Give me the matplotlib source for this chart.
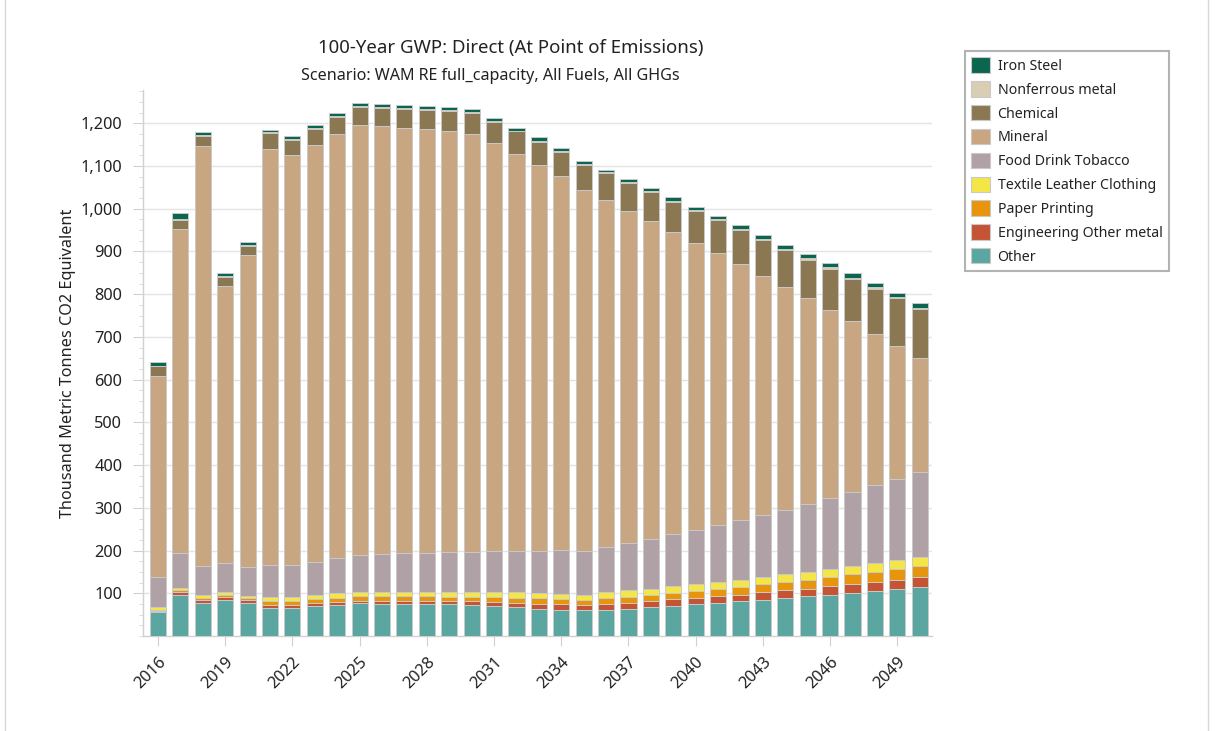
import matplotlib
matplotlib.use("Agg")
import matplotlib.pyplot as plt
from matplotlib.ticker import StrMethodFormatter, MultipleLocator
from matplotlib.patches import Patch
from matplotlib.lines import Line2D
import numpy as np

plt.rcParams['font.family'] = ['Noto Sans', 'DejaVu Sans']

years = list(range(2016, 2051))

other = [57, 97, 78, 85, 77, 66, 66, 71, 73, 77, 75, 75, 75, 74, 73, 71, 67, 64, 61, 60,
         62, 64, 68, 71, 74, 78, 81, 85, 89, 93, 96, 101, 106, 110, 114]
engineering = [2, 7, 7, 6, 7, 7, 7, 6, 6, 6, 8, 8, 8, 8, 9, 9, 11, 12, 13, 12,
               12, 14, 14, 15, 15, 15, 16, 18, 18, 18, 20, 20, 21, 22, 25]
paper = [3, 4, 4, 5, 5, 9, 8, 9, 10, 10, 10, 10, 10, 10, 10, 12, 12, 13, 12, 13,
         14, 14, 14, 15, 16, 17, 18, 18, 19, 21, 22, 23, 22, 24, 24]
textile = [6, 5, 7, 6, 5, 9, 10, 9, 11, 11, 11, 11, 11, 11, 11, 11, 12, 11, 13, 12,
           14, 15, 15, 15, 16, 17, 17, 17, 18, 18, 19, 20, 22, 23, 23]
food = [71, 81, 68, 69, 68, 76, 76, 79, 83, 86, 88, 90, 91, 93, 93, 95, 98, 100, 102, 103,
        107, 111, 117, 122, 127, 133, 139, 145, 152, 160, 167, 173, 182, 189, 198]
mineral = [470, 758, 984, 649, 730, 974, 958, 975, 991, 1006, 1001, 996, 991, 985, 978, 955,
           928, 903, 875, 844, 812, 777, 744, 708, 673, 636, 599, 560, 522, 482, 440, 400,
           355, 311, 267]
chemical = [22, 22, 23, 21, 21, 36, 36, 38, 40, 43, 44, 44, 46, 48, 50, 50, 53, 54, 57, 58,
            62, 66, 67, 71, 74, 77, 81, 84, 85, 89, 96, 99, 105, 111, 114]
nonferrous = [2, 3, 2, 2, 2, 2, 2, 2, 2, 2, 2, 2, 2, 2, 2, 2, 2, 2, 2, 2,
              2, 2, 2, 2, 2, 2, 2, 3, 3, 3, 3, 3, 3, 3, 3]
iron_steel = [8, 14, 6, 7, 8, 6, 7, 7, 7, 7, 7, 8, 7, 7, 7, 7, 7, 8, 7, 8,
              6, 6, 8, 8, 8, 8, 8, 8, 10, 10, 10, 11, 10, 10, 11]

series = [
    ("Other", other, "#5ba6a1"),
    ("Engineering Other metal", engineering, "#c45433"),
    ("Paper Printing", paper, "#e8950e"),
    ("Textile Leather Clothing", textile, "#f5e647"),
    ("Food Drink Tobacco", food, "#b0a1a6"),
    ("Mineral", mineral, "#c9a682"),
    ("Chemical", chemical, "#8b7752"),
    ("Nonferrous metal", nonferrous, "#d9cdb4"),
    ("Iron Steel", iron_steel, "#0b6650"),
]

fig = plt.figure(figsize=(12.15, 7.31), dpi=100)
ax = fig.add_axes([143 / 1215, 1 - 636 / 731, (932 - 143) / 1215, (636 - 90) / 731])

bottom = np.zeros(len(years))
for name, vals, col in series:
    ax.bar(years, vals, bottom=bottom, width=0.72, color=col, edgecolor="#c9c9c9",
           linewidth=0.7, zorder=3)
    bottom += np.array(vals, dtype=float)

ax.set_xlim(2016 - 0.67, 2050.55)
ax.set_ylim(0, 1278)
ax.set_yticks(range(100, 1300, 100))
ax.yaxis.set_major_formatter(StrMethodFormatter("{x:,.0f}"))
ax.yaxis.set_minor_locator(MultipleLocator(25))
ax.set_xticks(years[::3])
ax.set_xticklabels([str(y) for y in years[::3]], rotation=45, ha="right",
                   rotation_mode="anchor")

ax.grid(axis="y", which="major", color="#e4e4e4", linewidth=1.0, zorder=0)
ax.set_axisbelow(True)
for s in ["top", "right"]:
    ax.spines[s].set_visible(False)
for s in ["left", "bottom"]:
    ax.spines[s].set_color("#d0d0d0")
    ax.spines[s].set_linewidth(1.0)
ax.tick_params(axis="both", which="major", length=7, color="#d0d0d0", labelsize=11.8,
               labelcolor="#222222")
ax.tick_params(axis="y", which="major", pad=8)
ax.tick_params(axis="x", which="major", pad=6)
ax.tick_params(axis="y", which="minor", length=3, color="#d8d8d8")

ax.set_ylabel("Thousand Metric Tonnes CO2 Equivalent", fontsize=11.7, color="#222222",
              labelpad=3)

fig.text(511 / 1215, 1 - 48 / 731, "100-Year GWP: Direct (At Point of Emissions)",
         ha="center", va="center", fontsize=13.4, color="#222222")
fig.text(490 / 1215, 1 - 76 / 731, "Scenario: WAM RE full_capacity, All Fuels, All GHGs",
         ha="center", va="center", fontsize=11.6, color="#222222")

handles = [Patch(facecolor=col, edgecolor="#c9c9c9", linewidth=0.8, label=name)
           for name, vals, col in series[::-1]]
leg = fig.legend(handles=handles, loc="upper left",
                 bbox_to_anchor=(965 / 1215, 1 - 51 / 731), fontsize=10.2,
                 frameon=True, fancybox=False, edgecolor="#a0a0a0",
                 handlelength=1.3, handleheight=1.3, labelspacing=0.52,
                 borderpad=0.45, handletextpad=0.55, borderaxespad=0)
leg.get_frame().set_linewidth(1.5)
for t in leg.get_texts():
    t.set_color("#222222")

# faint page frame
fig.add_artist(Line2D([5 / 1215, 5 / 1215], [0, 1], transform=fig.transFigure,
                      color="#d8d8d8", linewidth=1))
fig.add_artist(Line2D([1208 / 1215, 1208 / 1215], [0, 1], transform=fig.transFigure,
                      color="#d8d8d8", linewidth=1))

fig.savefig("out.png", dpi=100)
